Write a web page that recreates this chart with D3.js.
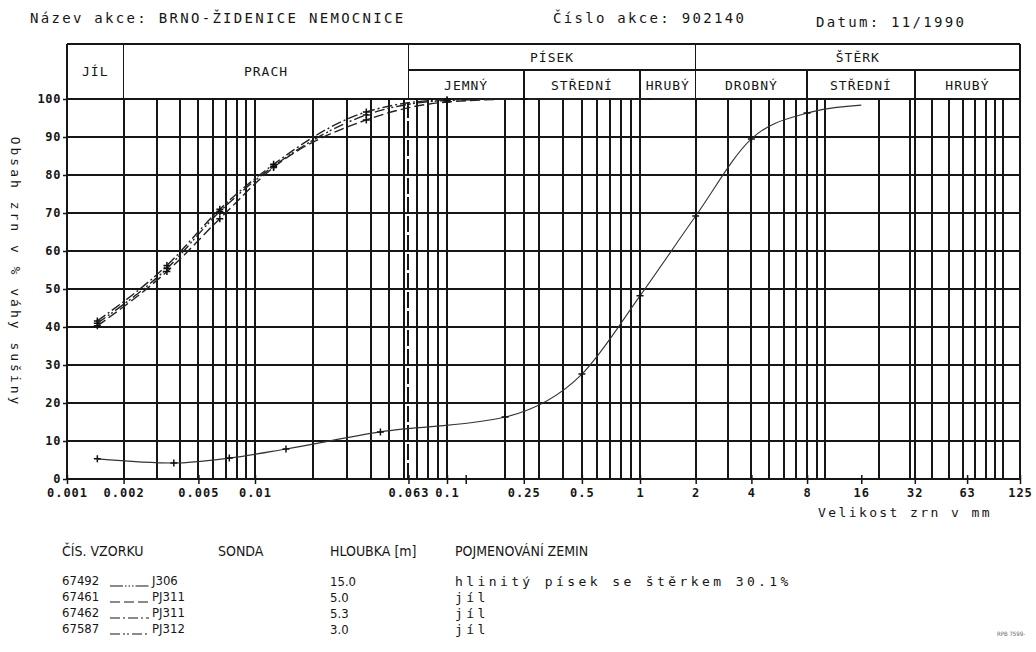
<!DOCTYPE html>
<html>
<head>
<meta charset="utf-8">
<script src="https://cdn.jsdelivr.net/npm/d3@7"></script>
<style>
  body { margin: 0; background: #fff; }
  svg { display: block; }
</style>
</head>
<body>
<svg id="chart" width="1036" height="652"></svg>
<script>
// ---- header texts ----
const titleName = "Název akce: BRNO-ŽIDENICE NEMOCNICE";
const titleNumber = "Číslo akce: 902140";
const titleDate = "Datum: 11/1990";

// ---- soil classes (grain size limits in mm) ----
const mainClassNames = ["JÍL", "PRACH", "PÍSEK", "ŠTĚRK"];
const mainClassLimits = [0.001, 0.002, 0.063, 2, 125];
const mainClassHasSub = [false, false, true, true];
const subClassNames = ["JEMNÝ", "STŘEDNÍ", "HRUBÝ", "DROBNÝ", "STŘEDNÍ", "HRUBÝ"];
const subClassLimits = [0.063, 0.25, 1, 2, 8, 32, 125];

// ---- axes ----
const sizeTicks = [0.001, 0.002, 0.005, 0.01, 0.063, 0.1, 0.25, 0.5, 1, 2, 4, 8, 16, 32, 63, 125];
const sizeTickLabels = ["0.001", "0.002", "0.005", "0.01", "0.063", "0.1", "0.25", "0.5", "1", "2", "4", "8", "16", "32", "63", "125"];
const unlabeledSizeTicks = [0.125];
const extraGridSizes = [0.063, 0.25, 32];
const percentTicks = [0, 10, 20, 30, 40, 50, 60, 70, 80, 90, 100];

// ---- samples ----
const sampleIds = ["67492", "67461", "67462", "67587"];
const sampleProbes = ["J306", "PJ311", "PJ311", "PJ312"];
const sampleDepths = ["15.0", "5.0", "5.3", "3.0"];
const sampleSoils = ["hlinitý písek se štěrkem 30.1%", "jíl", "jíl", "jíl"];

// grain size [mm] and passing [%] for each sample
const sizes67492 = [0.00145, 0.0037, 0.0073, 0.0145, 0.045, 0.2, 0.5, 1, 2, 4, 8, 16];
const pass67492  = [5.3, 4.2, 5.5, 7.9, 12.4, 16.3, 27.6, 48.2, 69.2, 89.5, 96.3, 98.4];
const sizes67461 = [0.00145, 0.0034, 0.0065, 0.0125, 0.038, 0.1, 0.25, 2];
const pass67461  = [40.3, 54.6, 68.5, 82.0, 94.5, 99.2, 100, 100];
const sizes67462 = [0.00145, 0.0034, 0.0065, 0.0125, 0.038, 0.1, 0.25, 2];
const pass67462  = [41.6, 56.2, 71.0, 82.8, 96.6, 99.8, 100, 100];
const sizes67587 = [0.00145, 0.0034, 0.0065, 0.0125, 0.038, 0.1, 0.25, 2];
const pass67587  = [41.0, 55.4, 70.4, 82.3, 95.8, 99.6, 100, 100];

const sampleSizes = [sizes67492, sizes67461, sizes67462, sizes67587];
const samplePassing = [pass67492, pass67461, pass67462, pass67587];
const sampleDash = ["13,2,1.5,2,1.5,2,1.5,2", "10,4", "10,3,2,3", "10,3,2,2,2,3"];

// ---- layout ----
const svg = d3.select("#chart");
const mono = "'DejaVu Sans Mono', monospace";
const narrow = "'Liberation Sans Narrow', 'DejaVu Sans Condensed', 'Liberation Sans', sans-serif";
const ink = "#161616";

const x = d3.scaleLog()
  .domain([0.001, 0.01, 0.1, 1, 10, 125])
  .range([67, 255, 447, 640, 825, 1020]);
const y = d3.scaleLinear().domain([0, 100]).range([479, 99]);

const headTop = 44, headMid = 70;
const xMin = x(mainClassLimits[0]), xMax = x(mainClassLimits[mainClassLimits.length - 1]);

// ---- title row ----
const title = svg.append("g").attr("font-family", mono).attr("fill", ink)
  .attr("font-size", 14).attr("letter-spacing", 2.3);
title.append("text").attr("x", 30).attr("y", 23).text(titleName);
title.append("text").attr("x", 553).attr("y", 23).text(titleNumber);
title.append("text").attr("x", 816).attr("y", 27).text(titleDate);

// ---- grid ----
const grid = svg.append("g").attr("stroke", ink).attr("stroke-width", 2)
  .attr("shape-rendering", "crispEdges");
grid.selectAll("line.vgrid").data(x.ticks()).join("line").attr("class", "vgrid")
  .attr("x1", d => x(d)).attr("x2", d => x(d))
  .attr("y1", y(0)).attr("y2", y(100));
grid.selectAll("line.vextra").data(extraGridSizes).join("line").attr("class", "vextra")
  .attr("x1", d => x(d)).attr("x2", d => x(d))
  .attr("y1", y(0)).attr("y2", y(100))
  .attr("stroke-dasharray", d => d === 0.063 ? "16,3" : null);
grid.selectAll("line.hgrid").data(percentTicks).join("line").attr("class", "hgrid")
  .attr("x1", xMin).attr("x2", xMax)
  .attr("y1", d => y(d)).attr("y2", d => y(d));

// ---- frame and soil class header ----
const frame = svg.append("g").attr("stroke", ink).attr("stroke-width", 1.6).attr("fill", "none")
  .attr("shape-rendering", "crispEdges");
frame.append("line").attr("x1", xMin).attr("x2", xMax).attr("y1", headTop).attr("y2", headTop);
frame.append("line").attr("x1", xMin).attr("x2", xMin).attr("y1", headTop).attr("y2", y(0)).attr("stroke-width", 2);
frame.append("line").attr("x1", xMax).attr("x2", xMax).attr("y1", headTop).attr("y2", y(0));
frame.append("line").attr("x1", x(0.063)).attr("x2", xMax).attr("y1", headMid).attr("y2", headMid);
frame.selectAll("line.mainlim").data(mainClassLimits.slice(1, -1)).join("line").attr("class", "mainlim")
  .attr("x1", d => x(d)).attr("x2", d => x(d)).attr("y1", headTop).attr("y2", y(100));
frame.selectAll("line.sublim").data(subClassLimits.slice(1, -1)).join("line").attr("class", "sublim")
  .attr("x1", d => x(d)).attr("x2", d => x(d)).attr("y1", headMid).attr("y2", y(100));

const headText = svg.append("g").attr("font-family", mono).attr("font-size", 13)
  .attr("letter-spacing", 1).attr("fill", ink).attr("text-anchor", "middle")
  .attr("dominant-baseline", "central");
headText.selectAll("text.main").data(mainClassNames).join("text").attr("class", "main")
  .attr("x", (d, i) => (x(mainClassLimits[i]) + x(mainClassLimits[i + 1])) / 2)
  .attr("y", (d, i) => mainClassHasSub[i] ? (headTop + headMid) / 2 : (headTop + y(100)) / 2)
  .text(d => d);
headText.selectAll("text.sub").data(subClassNames).join("text").attr("class", "sub")
  .attr("x", (d, i) => (x(subClassLimits[i]) + x(subClassLimits[i + 1])) / 2)
  .attr("y", (headMid + y(100)) / 2 + 1)
  .text(d => d);

// ---- axes ----
const yAxis = svg.append("g").attr("transform", `translate(${xMin},0)`)
  .call(d3.axisLeft(y).tickValues(percentTicks).tickSize(4).tickPadding(2));
yAxis.select(".domain").remove();
yAxis.selectAll(".tick line").attr("stroke", ink).attr("stroke-width", 1.5);
yAxis.selectAll(".tick text").attr("font-family", mono).attr("font-size", 12)
  .attr("font-weight", "bold").attr("letter-spacing", 0.6).attr("fill", ink);

const xAxis = svg.append("g").attr("transform", `translate(0,${y(0)})`)
  .call(d3.axisBottom(x).tickValues(sizeTicks.concat(unlabeledSizeTicks))
    .tickFormat(d => { const i = sizeTicks.indexOf(d); return i < 0 ? "" : sizeTickLabels[i]; })
    .tickSize(5).tickPadding(4));
xAxis.select(".domain").remove();
xAxis.selectAll(".tick line").attr("stroke", ink).attr("stroke-width", 1.5).attr("y1", -4);
xAxis.selectAll(".tick text").attr("font-family", mono).attr("font-size", 12)
  .attr("font-weight", "bold").attr("letter-spacing", 1).attr("fill", ink);

svg.append("text").attr("x", 818).attr("y", 517).attr("font-family", mono)
  .attr("font-size", 13).attr("letter-spacing", 2.4).attr("fill", ink)
  .text("Velikost zrn v mm");

svg.append("text").attr("transform", "translate(11,272) rotate(90)")
  .attr("text-anchor", "middle").attr("font-family", mono).attr("font-size", 13)
  .attr("letter-spacing", 3).attr("fill", ink)
  .text("Obsah zrn v % váhy sušiny");

// ---- grading curves ----
const curve = d3.line().x(d => x(d[0])).y(d => y(d[1])).curve(d3.curveMonotoneX);
const curves = svg.append("g").attr("fill", "none");
sampleIds.forEach((id, s) => {
  const pts = sampleSizes[s].map((v, i) => [v, samplePassing[s][i]]);
  curves.append("path").attr("d", curve(pts))
    .attr("stroke", s === 0 ? "#333" : "#222")
    .attr("stroke-width", s === 0 ? 1.1 : 1.4)
    .attr("stroke-dasharray", s === 0 ? null : sampleDash[s]);
  curves.selectAll(null).data(pts.slice(0, -1)).join("path")
    .attr("transform", d => `translate(${x(d[0])},${y(d[1])})`)
    .attr("d", "M-3.5,0H3.5M0,-3.5V3.5")
    .attr("stroke", "#111").attr("stroke-width", 1.5);
});

// ---- legend table ----
const legend = svg.append("g").attr("fill", ink);
const legHead = legend.append("g").attr("font-family", narrow).attr("font-size", 14);
legHead.append("text").attr("x", 62).attr("y", 556).text("ČÍS. VZORKU");
legHead.append("text").attr("x", 218).attr("y", 556).text("SONDA");
legHead.append("text").attr("x", 330).attr("y", 556).text("HLOUBKA [m]");
legHead.append("text").attr("x", 455).attr("y", 556).text("POJMENOVÁNÍ ZEMIN");

const rowY = i => 585 + i * 16;
const rows = legend.selectAll("g.row").data(sampleIds).join("g").attr("class", "row");
rows.append("text").attr("x", 62).attr("y", (d, i) => rowY(i))
  .attr("font-family", narrow).attr("font-size", 13).text(d => d);
rows.append("line").attr("x1", 110).attr("x2", 149)
  .attr("y1", (d, i) => rowY(i) + 1).attr("y2", (d, i) => rowY(i) + 1)
  .attr("stroke", ink).attr("stroke-width", 1.2)
  .attr("stroke-dasharray", (d, i) => sampleDash[i]);
rows.append("text").attr("x", 152).attr("y", (d, i) => rowY(i))
  .attr("font-family", narrow).attr("font-size", 13).text((d, i) => sampleProbes[i]);
rows.append("text").attr("x", 330).attr("y", (d, i) => rowY(i) + 1)
  .attr("font-family", narrow).attr("font-size", 13).text((d, i) => sampleDepths[i]);
rows.append("text").attr("x", 455).attr("y", (d, i) => rowY(i) + 1)
  .attr("font-family", mono).attr("font-size", 13).attr("letter-spacing", 3.4)
  .text((d, i) => sampleSoils[i]);

svg.append("text").attr("x", 997).attr("y", 636).attr("font-family", narrow)
  .attr("font-size", 6).attr("fill", "#666").text("RPB 7599-");
</script>
</body>
</html>
